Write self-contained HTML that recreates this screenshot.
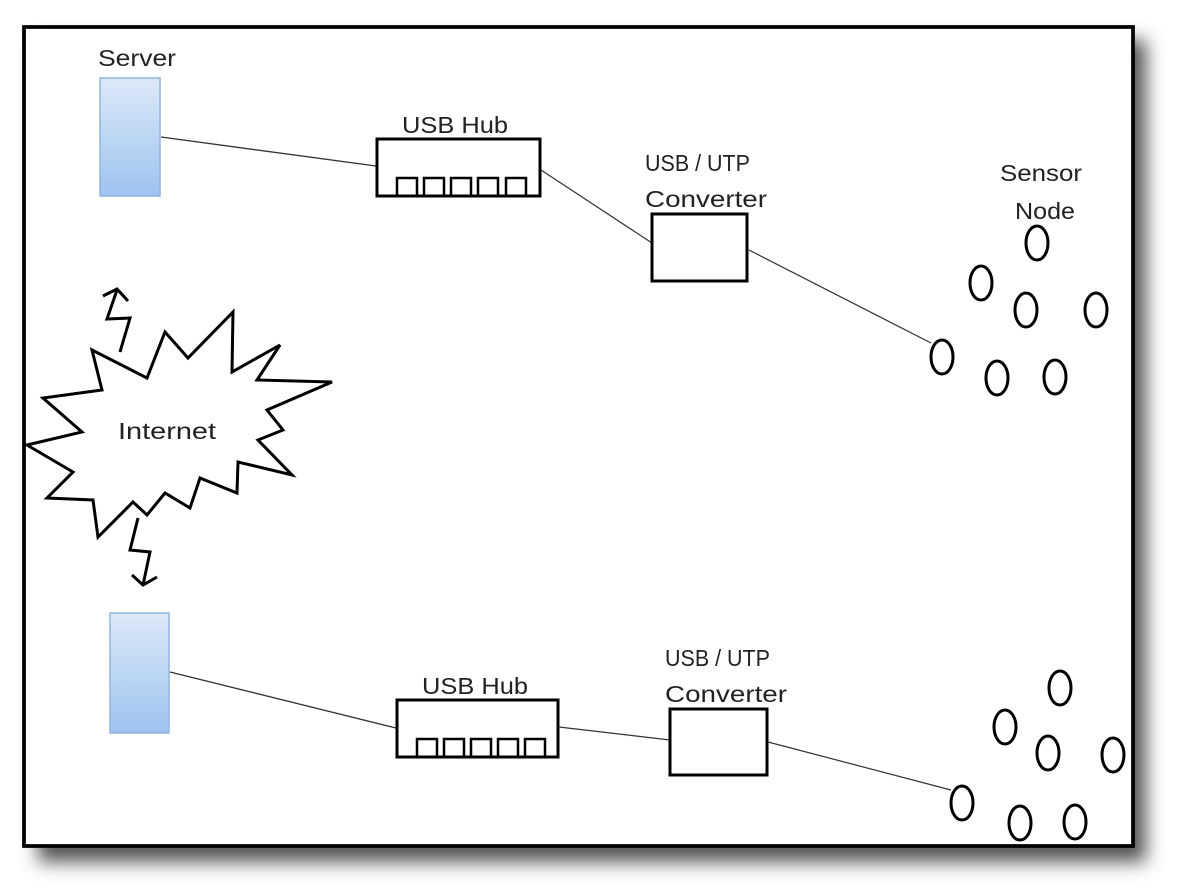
<!DOCTYPE html>
<html><head><style>
html,body{margin:0;padding:0;background:#fff;}
svg{display:block;}
text{font-family:"Liberation Sans",sans-serif;font-size:23px;fill:#222;}
</style></head><body>
<svg width="1187" height="892" viewBox="0 0 1187 892" xmlns="http://www.w3.org/2000/svg">
<defs>
<linearGradient id="srv" x1="0" y1="0" x2="0" y2="1">
<stop offset="0" stop-color="#dde9f8"/><stop offset="1" stop-color="#9dc3ef"/>
</linearGradient>
<filter id="sh" x="-5%" y="-5%" width="115%" height="115%"><feGaussianBlur stdDeviation="9"/></filter>
</defs>
<rect x="38" y="40" width="1108" height="822" fill="#555" filter="url(#sh)"/>
<rect x="24" y="27" width="1109" height="819" fill="#fff" stroke="#000" stroke-width="3.5"/>

<!-- top -->
<text x="98" y="66" textLength="78" lengthAdjust="spacingAndGlyphs">Server</text>
<rect x="100" y="78" width="60" height="118" fill="url(#srv)" stroke="#92b5de" stroke-width="1.5"/>
<line x1="161" y1="137" x2="376" y2="166" stroke="#333" stroke-width="1.3"/>
<text x="402" y="133" textLength="106" lengthAdjust="spacingAndGlyphs">USB Hub</text>
<rect x="377" y="139" width="163" height="57" fill="#fff" stroke="#000" stroke-width="3"/>
<g fill="none" stroke="#000" stroke-width="2.5">
<rect x="397" y="178" width="20" height="18"/><rect x="424" y="178" width="20" height="18"/><rect x="451" y="178" width="20" height="18"/><rect x="478" y="178" width="20" height="18"/><rect x="506" y="178" width="20" height="18"/>
</g>
<line x1="541" y1="170" x2="652" y2="243" stroke="#333" stroke-width="1.2"/>
<text x="645" y="171" textLength="105" lengthAdjust="spacingAndGlyphs">USB / UTP</text>
<text x="645" y="207" textLength="122" lengthAdjust="spacingAndGlyphs">Converter</text>
<rect x="652" y="214" width="95" height="67" fill="#fff" stroke="#000" stroke-width="3"/>
<line x1="749" y1="250" x2="931" y2="343" stroke="#333" stroke-width="1.2"/>
<text x="1000" y="181" textLength="82" lengthAdjust="spacingAndGlyphs">Sensor</text>
<text x="1015" y="219" textLength="60" lengthAdjust="spacingAndGlyphs">Node</text>
<g fill="none" stroke="#000" stroke-width="3">
<ellipse cx="942" cy="357" rx="11" ry="17"/><ellipse cx="981" cy="283" rx="11" ry="17"/><ellipse cx="1037" cy="243" rx="11" ry="17"/><ellipse cx="1026" cy="310" rx="11" ry="17"/><ellipse cx="1096" cy="310" rx="11" ry="17"/><ellipse cx="997" cy="378" rx="11" ry="17"/><ellipse cx="1055" cy="377" rx="11" ry="17"/>
</g>

<!-- internet -->
<polygon points="233,312 232,372 280,345 257,380 332,382 267,410 283,430 258,440 292,475 238,462 237,493 200,478 190,508 165,493 147,515 133,502 98,537 93,500 47,498 73,472 27,445 82,432 43,398 102,390 92,350 147,378 165,332 188,358" fill="#fff" stroke="#000" stroke-width="3" stroke-linejoin="miter"/>
<text x="118" y="439" textLength="98" lengthAdjust="spacingAndGlyphs">Internet</text>
<g fill="none" stroke="#000" stroke-width="3">
<polyline points="120,352 130,318 107,319 117,290"/><polyline points="103,296 117,289 128,301"/>
<polyline points="138,518 130,550 150,552 143,585"/><polyline points="132,575 143,585 157,577"/>
</g>

<!-- bottom -->
<rect x="110" y="613" width="59" height="120" fill="url(#srv)" stroke="#92b5de" stroke-width="1.5"/>
<line x1="170" y1="672" x2="396" y2="728" stroke="#333" stroke-width="1.3"/>
<text x="422" y="694" textLength="106" lengthAdjust="spacingAndGlyphs">USB Hub</text>
<rect x="397" y="700" width="161" height="57" fill="#fff" stroke="#000" stroke-width="3"/>
<g fill="none" stroke="#000" stroke-width="2.5">
<rect x="417" y="739" width="20" height="18"/><rect x="444" y="739" width="20" height="18"/><rect x="471" y="739" width="20" height="18"/><rect x="498" y="739" width="20" height="18"/><rect x="525" y="739" width="20" height="18"/>
</g>
<line x1="559" y1="727" x2="670" y2="740" stroke="#333" stroke-width="1.3"/>
<text x="665" y="666" textLength="105" lengthAdjust="spacingAndGlyphs">USB / UTP</text>
<text x="665" y="702" textLength="122" lengthAdjust="spacingAndGlyphs">Converter</text>
<rect x="670" y="709" width="97" height="66" fill="#fff" stroke="#000" stroke-width="3"/>
<line x1="768" y1="742" x2="951" y2="790" stroke="#333" stroke-width="1.2"/>
<g fill="none" stroke="#000" stroke-width="3">
<ellipse cx="962" cy="803" rx="11" ry="17"/><ellipse cx="1005" cy="727" rx="11" ry="17"/><ellipse cx="1060" cy="688" rx="11" ry="17"/><ellipse cx="1048" cy="753" rx="11" ry="17"/><ellipse cx="1113" cy="755" rx="11" ry="17"/><ellipse cx="1020" cy="823" rx="11" ry="17"/><ellipse cx="1075" cy="822" rx="11" ry="17"/>
</g>
<rect x="24" y="27" width="1109" height="819" fill="none" stroke="#000" stroke-width="3.5"/>
</svg>
</body></html>
